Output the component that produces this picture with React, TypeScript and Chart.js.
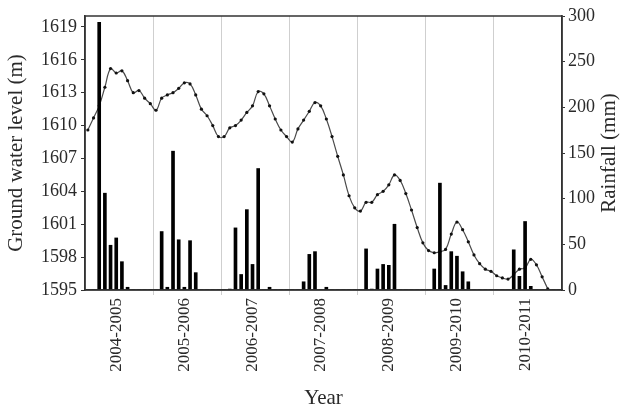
import React, { useEffect, useRef } from 'react';
import { Chart, registerables } from 'chart.js';

Chart.register(...registerables);

const years = ['2004-2005', '2005-2006', '2006-2007', '2007-2008', '2008-2009', '2009-2010', '2010-2011'];

// monthly rainfall (mm), 12 months per hydrological year
const rainfall = [
  0, 0, 293, 106, 49, 57, 31, 3, 0, 0, 0, 0,
  0, 64, 3, 152, 55, 3, 54, 19, 0, 0, 0, 0,
  0, 1, 68, 17, 88, 28, 133, 0, 3, 0, 0, 0,
  0, 0, 9, 39, 42, 0, 3, 0, 0, 0, 0, 0,
  0, 45, 1, 23, 28, 27, 72, 0, 0, 0, 0, 0,
  0, 23, 117, 5, 42, 37, 20, 9, 0, 0, 0, 0,
  0, 0, 0, 44, 15, 75, 4, 0, 0, 0, 0, 0,
];

// monthly ground water level (m)
const waterLevel = [
  1609.6, 1610.7, 1611.8, 1613.5, 1615.2, 1614.8, 1615.0, 1614.1, 1613.0, 1613.2, 1612.5, 1612.0,
  1611.4, 1612.5, 1612.8, 1613.0, 1613.4, 1613.9, 1613.8, 1612.8, 1611.5, 1610.9, 1610.0, 1609.0,
  1609.0, 1609.8, 1610.0, 1610.5, 1611.2, 1611.8, 1613.1, 1612.9, 1611.8, 1610.6, 1609.6, 1609.0,
  1608.5, 1609.7, 1610.5, 1611.3, 1612.1, 1611.8, 1610.6, 1609.0, 1607.2, 1605.5, 1603.6, 1602.5,
  1602.2, 1603.0, 1603.0, 1603.7, 1604.0, 1604.6, 1605.5, 1605.0, 1603.8, 1602.3, 1600.7, 1599.3,
  1598.6, 1598.4, 1598.5, 1598.7, 1600.1, 1601.2, 1600.5, 1599.4, 1598.2, 1597.4, 1596.9, 1596.7,
  1596.3, 1596.1, 1596.0, 1596.4, 1596.9, 1597.0, 1597.8, 1597.3, 1596.2, 1595.1, null, null,
];

const levelTicks = [1595, 1598, 1601, 1604, 1607, 1610, 1613, 1616, 1619];
const rainTicks = [0, 50, 100, 150, 200, 250, 300];

const monthLabels = years.flatMap((y) =>
  ['1', '2', '3', '4', '5', '6', '7', '8', '9', '10', '11', '12'].map((m) => `${y} M${m}`)
);

const FONT = 'Liberation Serif';
const TEXT = '#2a2a2a';
const AXIS = '#333333';
const RIGHT_TITLE = 'Rainfall (mm)';

const framePlugin = {
  id: 'frame',
  afterDraw(chart: any) {
    const { ctx, chartArea } = chart;
    const { left, top, right, bottom } = chartArea;
    ctx.save();
    ctx.strokeStyle = AXIS;
    ctx.lineWidth = 1.5;
    ctx.strokeRect(left, top, right - left, bottom - top);
    // right axis title, reading bottom to top
    ctx.fillStyle = TEXT;
    ctx.font = `21px "${FONT}"`;
    ctx.textAlign = 'center';
    ctx.textBaseline = 'middle';
    ctx.translate(chart.width - 16, (top + bottom) / 2);
    ctx.rotate(-Math.PI / 2);
    ctx.fillText(RIGHT_TITLE, 0, 0);
    ctx.restore();
  },
};

export default function App() {
  const ref = useRef<HTMLCanvasElement | null>(null);

  useEffect(() => {
    if (!ref.current) return;
    const chart = new Chart(ref.current, {
      type: 'bar',
      data: {
        labels: monthLabels,
        datasets: [
          {
            type: 'bar',
            label: 'Rainfall (mm)',
            data: rainfall,
            yAxisID: 'y1',
            backgroundColor: '#000000',
            borderWidth: 0,
            barThickness: 3,
            order: 0,
          } as any,
          {
            type: 'line',
            label: 'Ground water level (m)',
            data: waterLevel,
            yAxisID: 'y',
            borderColor: '#4a4a4a',
            borderWidth: 1.2,
            pointRadius: 1.6,
            pointBackgroundColor: '#111111',
            pointBorderWidth: 0,
            tension: 0.4,
            fill: false,
            order: 1,
          } as any,
        ],
      },
      options: {
        responsive: false,
        animation: false,
        layout: { padding: { top: 16, left: 0, right: 0, bottom: 0 } },
        plugins: {
          legend: { display: false },
          tooltip: { enabled: false },
        },
        scales: {
          x: {
            type: 'category',
            offset: true,
            grid: {
              offset: true,
              drawOnChartArea: true,
              tickLength: 5,
              lineWidth: 1,
              color: (ctx: any) =>
                ctx.index % 12 === 0 && ctx.index > 0 && ctx.index < monthLabels.length ? '#cfcfcf' : 'rgba(0,0,0,0)',
            },
            border: { display: true, color: AXIS, width: 1.5 },
            ticks: {
              autoSkip: false,
              maxRotation: 90,
              minRotation: 90,
              padding: 3,
              color: TEXT,
              font: { family: FONT, size: 17 },
              callback: (_v: any, index: number) => (index % 12 === 5 ? years[Math.floor(index / 12)] : ''),
            },
            title: {
              display: true,
              text: 'Year',
              color: TEXT,
              font: { family: FONT, size: 21 },
              padding: { top: 4, bottom: 3 },
            },
            afterFit: (scale: any) => {
              scale.height = 124;
            },
          },
          y: {
            type: 'linear',
            position: 'left',
            min: 1595,
            max: 1620,
            afterBuildTicks: (scale: any) => {
              scale.ticks = levelTicks.map((v) => ({ value: v }));
            },
            grid: { drawOnChartArea: false, drawTicks: true, tickLength: 4, color: AXIS },
            border: { display: true, color: AXIS, width: 1.5 },
            ticks: {
              padding: 4,
              color: TEXT,
              font: { family: FONT, size: 18 },
              callback: (v: any) => String(v),
            },
            title: {
              display: true,
              text: 'Ground water level (m)',
              color: TEXT,
              font: { family: FONT, size: 21 },
              padding: { top: 4, bottom: 4 },
            },
            afterFit: (scale: any) => {
              scale.width = 85;
            },
          },
          y1: {
            type: 'linear',
            position: 'right',
            min: 0,
            max: 300,
            afterBuildTicks: (scale: any) => {
              scale.ticks = rainTicks.map((v) => ({ value: v }));
            },
            grid: { drawOnChartArea: false, drawTicks: true, tickLength: 3, color: AXIS },
            border: { display: true, color: AXIS, width: 1.5 },
            ticks: {
              padding: 3,
              color: TEXT,
              font: { family: FONT, size: 18 },
              callback: (v: any) => String(v),
            },
            title: { display: false },
            afterFit: (scale: any) => {
              scale.width = 63;
            },
          },
        },
      },
      plugins: [framePlugin],
    });
    return () => chart.destroy();
  }, []);

  return (
    <div style={{ position: 'fixed', left: 0, top: 0, width: 625, height: 414, background: '#ffffff' }}>
      <canvas ref={ref} width={625} height={414} style={{ width: 625, height: 414 }} />
    </div>
  );
}
